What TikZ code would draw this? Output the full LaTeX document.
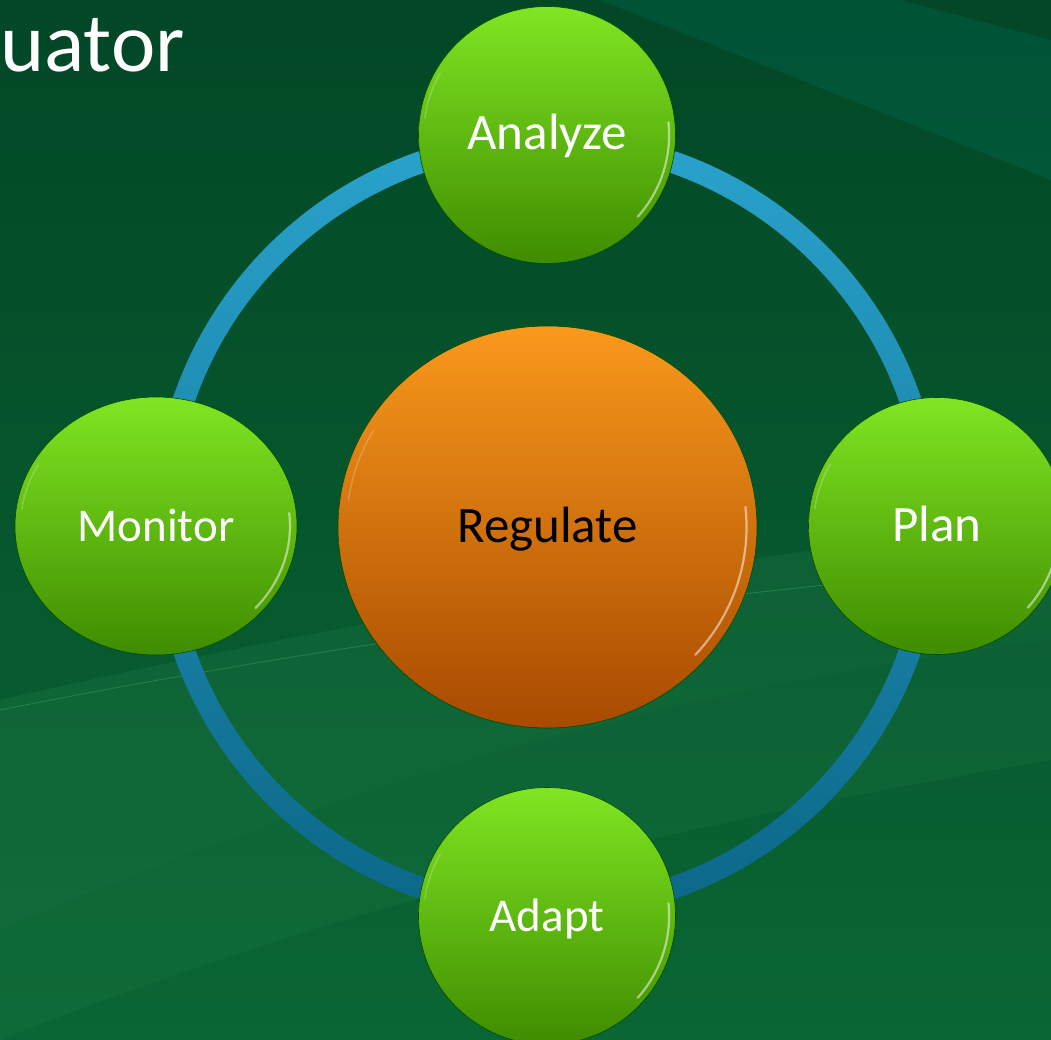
\documentclass[tikz,border=0pt]{standalone}
\usepackage{fontspec}
\setmainfont{Carlito}
\usetikzlibrary{shapes.geometric,calc}

\definecolor{bgtop}{HTML}{024726}
\definecolor{bgbot}{HTML}{0A6634}
\definecolor{limetop}{HTML}{80E622}
\definecolor{limebot}{HTML}{3F8C00}
\definecolor{orangetop}{HTML}{F9991C}
\definecolor{orangemid}{HTML}{EE7C02}
\definecolor{orangebot}{HTML}{A84A00}
\definecolor{ringtop}{HTML}{2AA3CC}
\definecolor{ringbot}{HTML}{0B6788}
\definecolor{sweep}{HTML}{4FB878}

\begin{document}
\begin{tikzpicture}[x=1pt, y=1pt,
    ball/.style={ellipse, inner sep=0pt, draw=green!30!black, line width=0.6pt, text=white,
        font=\fontsize{51}{60}\selectfont, text height=36pt, text depth=6pt},
    stage/.style={ball, top color=limetop, bottom color=limebot, minimum width=257pt, minimum height=257pt},
    hub/.style={ball, top color=orangetop, middle color=orangemid, bottom color=orangebot, text=black,
        minimum width=419pt, minimum height=402pt},
    small/.style={font=\fontsize{47}{56}\selectfont},
    gloss/.style={white, line cap=round}
]

\useasboundingbox (0,0) rectangle (1051,-1040);
\clip (0,0) rectangle (1051,-1040);

% backdrop with the light sweeps
\shade[top color=bgtop, bottom color=bgbot] (0,0) rectangle (1051,-1040);
\fill[cyan!60!green, opacity=.12] (600,0) -- (1051,-180) -- (1051,-40) -- (900,0) -- cycle;
\fill[sweep, opacity=.10] (0,-700) .. controls (350,-620) and (700,-560) .. (1051,-520)
    -- (1051,-640) .. controls (650,-690) and (300,-800) .. (0,-930) -- cycle;
\fill[sweep, opacity=.07] (0,-930) .. controls (300,-800) and (650,-690) .. (1051,-640)
    -- (1051,-760) .. controls (700,-820) and (350,-900) .. (0,-1040) -- cycle;
\draw[sweep, opacity=.35, line width=.8pt] (0,-710) .. controls (300,-650) and (700,-590) .. (1051,-565);

\node[anchor=base west, inner sep=0pt, text=white, font=\fontsize{84}{96}\selectfont] (title) at (0,-72) {uator};

% the cycle ring
\coordinate (centre) at (547,-525);
\shade[top color=ringtop, bottom color=ringbot, even odd rule] (centre) circle (395) (centre) circle (373);

% balls
\node[hub] (reg) at (547.5,-527) {Regulate};
\node[stage] (ana) at (547,-135) {Analyze};
\node[stage, small, minimum width=282pt, minimum height=258pt] (mon) at (156,-526) {Monitor};
\node[stage] (pla) at (937,-526) {Plan};
\node[stage, small] (ada) at (547,-916) {Adapt};

% shine along the rims
\foreach \n/\rx/\ry in {reg/209.5/201, ana/128.5/128.5, mon/141/129, pla/128.5/128.5, ada/128.5/128.5} {
    \draw[gloss, line width=2.2pt, opacity=.5] ($(\n.center)+(6:{.95*\rx} and {.95*\ry})$) arc[start angle=6, end angle=-42, x radius=.95*\rx, y radius=.95*\ry];
    \draw[gloss, line width=1.5pt, opacity=.2] ($(\n.center)+(150:{.96*\rx} and {.96*\ry})$) arc[start angle=150, end angle=172, x radius=.96*\rx, y radius=.96*\ry];
}

\end{tikzpicture}
\end{document}
